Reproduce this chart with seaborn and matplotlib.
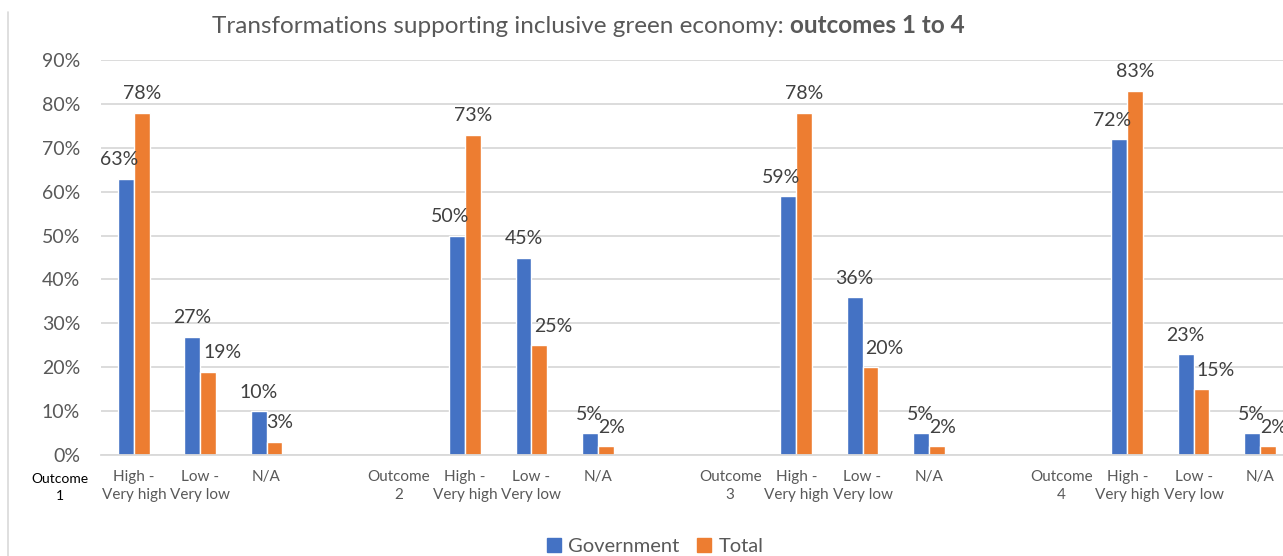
import matplotlib
matplotlib.use("Agg")
import matplotlib.pyplot as plt
from matplotlib.lines import Line2D
from matplotlib.ticker import MultipleLocator, PercentFormatter
import numpy as np
import pandas as pd
import seaborn as sns

# Survey results per outcome (percent of respondents)
outcomes = ["Outcome 1", "Outcome 2", "Outcome 3", "Outcome 4"]
ratings = ["High -\nVery high", "Low -\nVery low", "N/A"]
government = [[63, 27, 10], [50, 45, 5], [59, 36, 5], [72, 23, 5]]
total = [[78, 19, 3], [73, 25, 2], [78, 20, 2], [83, 15, 2]]
series_names = ["Government", "Total"]
colors = ["#4472C4", "#ED7D31"]

# Each outcome occupies five slots: its own label, three ratings and a spacer
slots, slot_labels = [], []
for i, oc in enumerate(outcomes):
    slots.append(f"{oc}|label")
    slot_labels.append(oc.replace(" ", "\n"))
    for r in ratings:
        slots.append(f"{oc}|{r}")
        slot_labels.append(r)
    if i < len(outcomes) - 1:
        slots.append(f"{oc}|gap")
        slot_labels.append("")

rows = []
for i, oc in enumerate(outcomes):
    for j, r in enumerate(ratings):
        rows.append({"slot": f"{oc}|{r}", "series": "Government", "value": government[i][j] / 100})
        rows.append({"slot": f"{oc}|{r}", "series": "Total", "value": total[i][j] / 100})
df = pd.DataFrame(rows)

sns.set_theme(style="white")
plt.rcParams["font.family"] = ["Lato", "DejaVu Sans"]

W, H = 1283, 556
fig = plt.figure(figsize=(W / 100, H / 100), dpi=100)
ax = fig.add_axes([101 / W, 1 - 455 / H, 1 - 101 / W, (455 - 60) / H])

sns.barplot(data=df, x="slot", y="value", hue="series", order=slots,
            hue_order=series_names, palette=colors, width=0.48, gap=0,
            saturation=1, ax=ax, legend=False)

# Tick labels for every slot except the first, which sits outside the plot area
ax.set_xticks(range(1, len(slots)))
ax.set_xticklabels(slot_labels[1:], linespacing=1.35, va="top")

ax.set_ylim(0, 0.9)
ax.set_xlim(0.5, 18.35)
ax.yaxis.set_major_locator(MultipleLocator(0.1))
ax.yaxis.set_major_formatter(PercentFormatter(1.0, decimals=0))
ax.grid(axis="y", color="#D9D9D9", linewidth=1.3)
ax.set_axisbelow(True)
for side in ["top", "right", "left"]:
    ax.spines[side].set_visible(False)
ax.spines["bottom"].set_color("#D9D9D9")
ax.spines["bottom"].set_linewidth(1.3)
ax.set_xlabel("")
ax.set_ylabel("")
ax.tick_params(axis="y", length=0, pad=15, labelsize=14, labelcolor="#595959")
ax.tick_params(axis="x", length=0, pad=11, labelsize=11, labelcolor="#595959")

# First outcome label, left of the plotting area
ax.text(-0.12, -0.045, slot_labels[0], transform=ax.get_xaxis_transform(),
        ha="center", va="top", fontsize=10, color="black",
        linespacing=1.5, clip_on=False)

# Value labels above each bar, nudged sideways so neighbours don't collide
nudge = {"Government": [-5, 0, 0], "Total": [0, 10, 4]}
for name, cont in zip(series_names, ax.containers):
    for k, bar in enumerate(cont):
        h = bar.get_height()
        if np.isnan(h):
            continue
        dx = nudge[name][k % len(ratings)]
        ax.annotate(f"{h * 100:.0f}%", (bar.get_x() + bar.get_width() / 2, h),
                    xytext=(dx, 7.5), textcoords="offset points",
                    ha="center", va="bottom", fontsize=14, color="#404040")

# Title: regular part followed by bold part
t1 = fig.text(212 / W, 1 - 33 / H, "Transformations supporting inclusive green economy: ",
              fontsize=17.5, color="#595959", ha="left", va="baseline")
fig.canvas.draw()
bb = t1.get_window_extent()
fig.text(bb.x1 / W, 1 - 33 / H, "outcomes 1 to 4", fontsize=17.5,
         fontweight="bold", color="#595959", ha="left", va="baseline")

handles = [Line2D([], [], marker="s", linestyle="", markersize=10,
                  markerfacecolor=c, markeredgecolor=c) for c in colors]
fig.legend(handles, series_names, loc="center", bbox_to_anchor=(655 / W, 1 - 546 / H),
           ncol=2, frameon=False, fontsize=14.5, labelcolor="#595959",
           handlelength=0.7, handletextpad=0.35, columnspacing=0.9)

# Chart area border on the left
fig.add_artist(Line2D([8 / W, 8 / W], [0, 1 - 12 / H], transform=fig.transFigure,
                      color="#D9D9D9", linewidth=1.2))

fig.savefig("out.png", dpi=100)
